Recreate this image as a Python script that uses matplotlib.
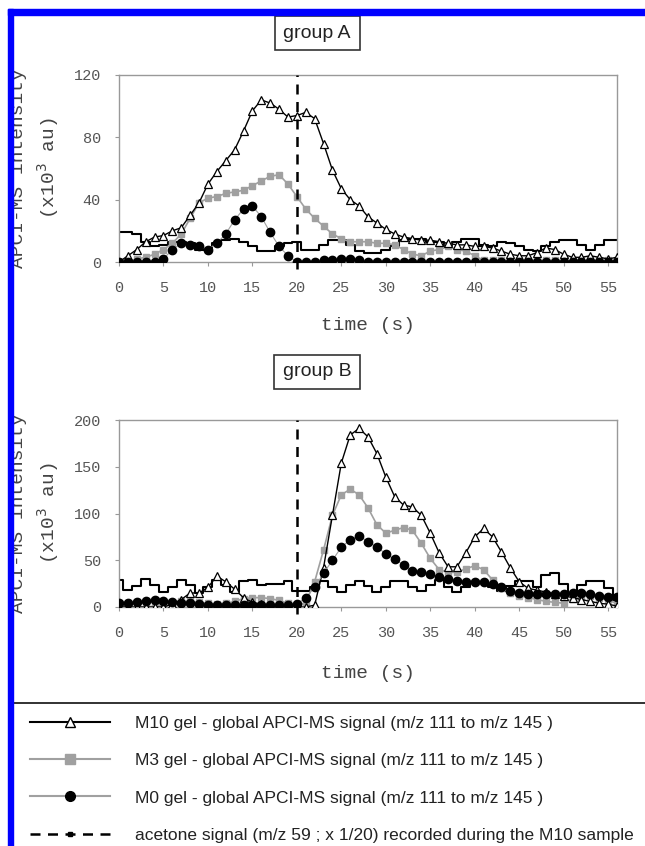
import matplotlib
matplotlib.use("Agg")
import matplotlib.pyplot as plt
from matplotlib.lines import Line2D
from matplotlib.patches import Rectangle

# time axis (s)
time = list(range(57))

# group A
m10_a = [0, 4, 8, 13, 16, 17, 20, 22, 30, 38, 50, 58, 65, 72, 84, 97, 104, 102, 98, 93,
         94, 96, 92, 76, 59, 47, 40, 36, 29, 25, 21, 18, 16, 15, 14, 14, 13, 12, 11, 11,
         10, 10, 9, 7, 5, 4, 4, 6, 9, 8, 5, 3, 3, 4, 3, 2, 3]
m3_a = [0, 0, 2, 3, 5, 8, 12, 18, 28, 38, 41, 42, 44, 45, 46, 49, 52, 55, 56, 50,
        42, 34, 28, 23, 18, 15, 13, 13, 13, 12, 12, 11, 8, 5, 4, 7, 8, 10, 8, 7,
        4, 1, 1, 1, 1, 1, 1, 1, 1, 1, 1, 1, 1, 1, 1, 1, 1]
m0_a = [0, 0, 0, 0, 0, 2, 8, 12, 11, 10, 8, 12, 18, 27, 34, 36, 29, 19, 10, 4,
        0, 0, 0, 1, 1, 2, 2, 1, 0, 0, 0, 0, 0, 0, 0, 0, 0, 0, 0, 0,
        0, 0, 0, 0, 0, 0, 0, 0, 0, 0, 0, 0, 0, 0, 0, 0, 0]
acetone_a = [19, 19, 18, 13, 10, 11, 13, 13, 12, 8, 8, 12, 14, 15, 13, 10, 7, 7, 10, 12,
             13, 8, 8, 11, 14, 14, 11, 7, 6, 6, 8, 10, 14, 15, 15, 13, 13, 10, 13, 15,
             15, 11, 10, 13, 12, 10, 8, 7, 10, 13, 14, 14, 11, 8, 11, 14, 14]

# group B
m10_b = [0, 0, 0, 0, 0, 0, 3, 8, 15, 15, 21, 33, 27, 19, 10, 5, 3, 2, 1, 0,
         0, 0, 2, 42, 98, 154, 184, 191, 182, 164, 139, 118, 109, 107, 98, 79, 58, 43, 43, 58,
         75, 84, 75, 59, 42, 27, 20, 18, 16, 14, 12, 10, 8, 6, 4, 3, 1]
m3_b = [0, 0, 0, 0, 1, 2, 4, 6, 6, 5, 4, 3, 4, 6, 9, 10, 10, 9, 7, 4,
        1, 5, 27, 61, 98, 120, 126, 120, 106, 88, 79, 82, 85, 82, 68, 52, 40, 37, 37, 41,
        44, 40, 29, 20, 15, 12, 10, 8, 6, 5, 4, 9, 11, 12, 10, 7, 4]
m0_b = [4, 4, 5, 6, 7, 6, 5, 4, 4, 3, 2, 2, 2, 2, 2, 2, 2, 2, 2, 2,
        3, 10, 21, 36, 50, 64, 72, 76, 70, 64, 57, 51, 45, 39, 37, 35, 32, 30, 28, 27,
        27, 27, 25, 21, 17, 15, 14, 14, 14, 14, 14, 15, 15, 14, 12, 11, 11]
acetone_b = [29, 18, 22, 30, 23, 16, 21, 29, 23, 15, 21, 29, 23, 16, 28, 29, 24, 25, 25, 28,
             17, 17, 21, 28, 21, 16, 23, 28, 22, 16, 21, 28, 28, 21, 17, 23, 29, 21, 16, 21,
             27, 27, 21, 17, 22, 28, 28, 21, 34, 36, 25, 15, 24, 28, 28, 20, 8]

inject_time = 20
x_ticks = list(range(0, 56, 5))
labels = ["M10 gel - global APCI-MS signal (m/z 111 to m/z 145 )",
          "M3 gel - global APCI-MS signal (m/z 111 to m/z 145 )",
          "M0 gel - global APCI-MS signal (m/z 111 to m/z 145 )",
          "acetone signal (m/z 59 ; x 1/20) recorded during the M10 sample"]

W, H = 645, 846
mono = "Liberation Mono"
sans = "Liberation Sans"
tick_col = "#555555"
gray = "#a0a0a0"

fig = plt.figure(figsize=(W / 100, H / 100), dpi=100)


def px_axes(left, top, right, bottom):
    return fig.add_axes([left / W, 1 - bottom / H, (right - left) / W, (bottom - top) / H])


def draw_panel(ax, m10, m3, m0, acetone, ymax, ystep):
    ax.plot(time, acetone, color="black", lw=1.5, drawstyle="steps-mid", zorder=2)
    ax.plot(time, m3, color=gray, lw=1.2, marker="s", ms=5, mfc=gray, mec=gray, zorder=3)
    ax.plot(time, m10, color="black", lw=1.0, marker="^", ms=6, mfc="white", mec="black",
            mew=0.9, zorder=4)
    ax.plot(time, m0, color=gray, lw=0.8, marker="o", ms=6, mfc="black", mec="black", zorder=5)
    ax.axvline(inject_time, ymin=-0.04, ymax=1, color="black", lw=1.8, ls=(0, (4, 3)),
               clip_on=False, zorder=6)
    ax.set_xlim(0, 56)
    ax.set_ylim(0, ymax)
    ax.set_xticks(x_ticks)
    ax.set_yticks(range(0, ymax + 1, ystep))
    for s in ax.spines.values():
        s.set_color("#999999")
        s.set_linewidth(1.0)
    ax.tick_params(axis="both", colors="#999999", labelcolor=tick_col, length=3,
                   direction="out", labelsize=11)
    ax.tick_params(axis="x", pad=11)
    ax.tick_params(axis="y", pad=10)
    for lab in ax.get_xticklabels() + ax.get_yticklabels():
        lab.set_family(mono)


ax_a = px_axes(119, 75, 617, 262)
draw_panel(ax_a, m10_a, m3_a, m0_a, acetone_a, 120, 40)
ax_b = px_axes(119, 420, 617, 607)
draw_panel(ax_b, m10_b, m3_b, m0_b, acetone_b, 200, 50)

# axis titles
for yc, tlab in [(168, 326), (513, 673)]:
    fig.text(19 / W, 1 - yc / H, "APCI-MS intensity", rotation=90, ha="center", va="center",
             family=mono, fontsize=14, color="#444444")
    fig.text(48 / W, 1 - yc / H, "(x10$^{3}$ au)", rotation=90, ha="center", va="center",
             family=mono, fontsize=14, color="#444444")
    fig.text(368 / W, 1 - tlab / H, "time (s)", ha="center", va="center",
             family=mono, fontsize=14, color="#444444")

# group boxes
for yc, name in [(33, "group A"), (372, "group B")]:
    fig.text(317 / W, 1 - yc / H, name, ha="center", va="center", family=sans, fontsize=14,
             color="#222222",
             bbox=dict(boxstyle="square,pad=0.45", fc="white", ec="#333333", lw=1.2))

# legend
handles = [
    Line2D([], [], color="black", lw=1.5, marker="^", ms=7, mfc="white", mec="black"),
    Line2D([], [], color=gray, lw=1.5, marker="s", ms=7, mfc=gray, mec=gray),
    Line2D([], [], color=gray, lw=1.5, marker="o", ms=7, mfc="black", mec="black"),
    Line2D([], [], color="black", lw=1.8, ls=(0, (4, 3)), marker="s", ms=3.5,
           mfc="black", mec="black"),
]
fig.legend(handles, labels, loc="upper left", bbox_to_anchor=(23 / W, 1 - 709 / H),
           frameon=False, prop={"family": sans, "size": 12.5}, handlelength=4.6,
           handletextpad=1.45, labelspacing=1.27, borderaxespad=0, labelcolor="#222222")

fig.add_artist(Line2D([13 / W, 1], [1 - 703 / H, 1 - 703 / H], color="#222222", lw=1.3))

# blue frame
fig.add_artist(Rectangle((8 / W, 0), 5 / W, 1 - 9 / H, color="#0000ff", zorder=10))
fig.add_artist(Rectangle((8 / W, 1 - 15 / H), 1, 6 / H, color="#0000ff", zorder=10))

fig.savefig("out.png", dpi=100)
